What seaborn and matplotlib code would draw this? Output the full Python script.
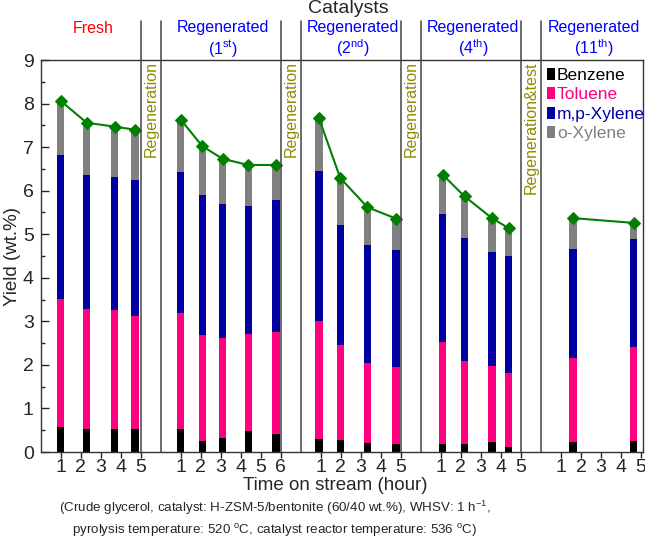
import numpy as np
import pandas as pd
import matplotlib
matplotlib.use('Agg')
import matplotlib.pyplot as plt
import matplotlib.transforms as mtransforms
from matplotlib.patches import Patch
import seaborn as sns

# catalyst runs and sampling times (hour on stream)
groups = ['Fresh', '1st', '2nd', '4th', '11th']
hours = [[1.0, 2.3, 3.7, 4.72],
         [1.0, 2.08, 3.1, 4.38, 5.75],
         [0.9, 1.97, 3.33, 4.75],
         [1.08, 2.18, 3.55, 4.38],
         [1.6, 4.63]]
# yields, wt.%
benzene = [[0.57, 0.54, 0.54, 0.53],
           [0.54, 0.25, 0.33, 0.48, 0.41],
           [0.29, 0.27, 0.21, 0.19],
           [0.18, 0.18, 0.23, 0.12],
           [0.23, 0.25]]
toluene = [[2.94, 2.74, 2.72, 2.59],
           [2.66, 2.44, 2.28, 2.23, 2.34],
           [2.72, 2.18, 1.84, 1.77],
           [2.35, 1.91, 1.74, 1.70],
           [1.93, 2.17]]
mp_xylene = [[3.31, 3.09, 3.05, 3.13],
             [3.23, 3.22, 3.09, 2.93, 3.03],
             [3.45, 2.77, 2.71, 2.68],
             [2.94, 2.83, 2.63, 2.69],
             [2.50, 2.47]]
o_xylene = [[1.24, 1.19, 1.16, 1.15],
            [1.20, 1.11, 1.03, 0.95, 0.81],
            [1.21, 1.07, 0.86, 0.72],
            [0.90, 0.95, 0.77, 0.63],
            [0.71, 0.37]]
tick_hours = [[1, 2, 3, 4, 5], [1, 2, 3, 4, 5, 6], [1, 2, 3, 4, 5],
              [1, 2, 3, 4, 5], [1, 2, 3, 4, 5]]
regen_labels = ['Regeneration', 'Regeneration', 'Regeneration', 'Regeneration&test']
components = ['Benzene', 'Toluene', 'm,p-Xylene', 'o-Xylene']

# layout: where each run starts on the shared x axis
offsets = [0, 6, 13, 19, 25]
xmax = 30.1
colors = ['#000000', '#FF0080', '#0000A0', '#808080']

rows = []
for g, name in enumerate(groups):
    for i, h in enumerate(hours[g]):
        rows.append({'group': name, 'pos': offsets[g] + h,
                     'Benzene': benzene[g][i], 'Toluene': toluene[g][i],
                     'm,p-Xylene': mp_xylene[g][i], 'o-Xylene': o_xylene[g][i]})
df = pd.DataFrame(rows)
df['total'] = df[components].sum(axis=1)

sns.set_style('ticks')
plt.rcParams['font.family'] = ['Liberation Sans', 'DejaVu Sans']
plt.rcParams['mathtext.fontset'] = 'custom'
plt.rcParams['mathtext.rm'] = 'Liberation Sans'
plt.rcParams['mathtext.it'] = 'Liberation Sans:italic'

fig = plt.figure(figsize=(6.45, 5.45), dpi=100)
ax = fig.add_axes([0.0631, 0.1706, 0.9338, 0.7193])

bottom = np.zeros(len(df))
for comp, col in zip(components, colors):
    ax.bar(df['pos'], df[comp], bottom=bottom, width=0.37, color=col, lw=0, zorder=2)
    bottom += df[comp].values

sns.lineplot(data=df, x='pos', y='total', units='group', estimator=None,
             color='#008000', marker='D', markersize=6, markeredgecolor='#008000',
             lw=1.5, ax=ax, legend=False, zorder=3)

ax.set_xlim(0, xmax)
ax.set_ylim(0, 9)
ax.set_yticks(range(0, 10))
ax.set_yticks(np.arange(0.5, 9, 1), minor=True)
xt, xl = [], []
for g in range(len(groups)):
    for h in tick_hours[g]:
        xt.append(offsets[g] + h)
        xl.append(str(h))
ax.set_xticks(xt)
ax.set_xticklabels(xl)
ax.tick_params(axis='x', direction='out', length=4, width=1, labelsize=14, pad=1)
ax.tick_params(axis='y', which='major', direction='in', length=6, width=1, labelsize=14, pad=5)
ax.tick_params(axis='y', which='minor', direction='in', length=3, width=1)
ax.set_xlabel('')
ax.set_ylabel('')
for s in ax.spines.values():
    s.set_color('#333333')
    s.set_linewidth(1)

# separators between catalyst runs, with regeneration notes
for g in range(1, len(groups)):
    for xv in (offsets[g] - 1, offsets[g]):
        ax.axvline(xv, ymin=0, ymax=1.0995, clip_on=False, color='#444444', lw=1.1, zorder=4)
    ax.text(offsets[g] - 0.5, 8.97, regen_labels[g - 1], rotation=90, ha='center', va='top',
            color='#8C8C00', fontsize=11.5)

trans = mtransforms.blended_transform_factory(ax.transData, fig.transFigure)
bounds = [(0, 5)] + [(offsets[g], offsets[g + 1] - 1) for g in range(1, len(groups) - 1)] + [(offsets[-1], xmax)]
for g, name in enumerate(groups):
    cx = (bounds[g][0] + bounds[g][1]) / 2 + 0.1
    if g == 0:
        ax.text(cx, 0.948, 'Fresh', transform=trans, ha='center', va='center', color='#FF0000', fontsize=11.5)
    else:
        num = name[:-2]
        suf = name[-2:]
        ax.text(cx, 0.949, 'Regenerated', transform=trans, ha='center', va='center',
                color='#0000FF', fontsize=11.5)
        ax.text(cx, 0.911, '(' + num + r'$^{\mathrm{' + suf + '}}$)', transform=trans,
                ha='center', va='center', color='#0000FF', fontsize=11.5)

fig.text(0.54, 0.984, 'Catalysts', ha='center', va='center', fontsize=14)
fig.text(0.019, 0.53, 'Yield (wt.%)', rotation=90, ha='center', va='center', fontsize=13.5)
fig.text(0.52, 0.11, 'Time on stream (hour)', ha='center', va='center', fontsize=13.5)
fig.text(0.426, 0.068, r'(Crude glycerol, catalyst: H-ZSM-5/bentonite (60/40 wt.%), WHSV: 1 h$^{\mathrm{-1}}$,',
         ha='center', va='center', fontsize=9.6)
fig.text(0.425, 0.0275, r'pyrolysis temperature: 520 $^{\mathrm{o}}$C, catalyst reactor temperature: 536 $^{\mathrm{o}}$C)',
         ha='center', va='center', fontsize=9.6)

handles = [Patch(facecolor=c, edgecolor='none') for c in colors]
ax.legend(handles, components, loc='upper left', bbox_to_anchor=(0.84, 0.98), frameon=False,
          handlelength=0.5, handleheight=0.65, handletextpad=0.1, borderpad=0, borderaxespad=0,
          labelspacing=0.26, fontsize=12.5, labelcolor=colors)

fig.savefig('out.png', dpi=100)
